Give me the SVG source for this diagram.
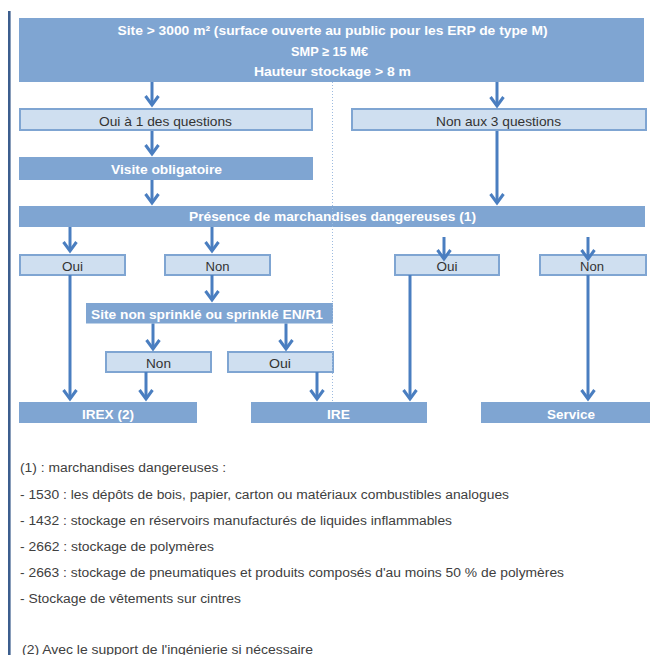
<svg xmlns="http://www.w3.org/2000/svg" width="650" height="655" viewBox="0 0 650 655">
<style>
.dark{fill:#7fa5d2}
.light{fill:#cfdff0;stroke:#7fa5d2;stroke-width:2}
.tw{fill:#ffffff;font-family:"Liberation Sans",Arial,sans-serif;font-weight:bold;font-size:13px;text-anchor:middle}
.td{fill:#333333;font-family:"Liberation Sans",Arial,sans-serif;font-size:13px;text-anchor:middle}
.fn{fill:#404040;font-family:"Liberation Sans",Arial,sans-serif;font-size:12.5px}
.conn path{stroke:#4a7ec0;stroke-width:3;fill:none;marker-end:url(#ah)}
</style>
<defs>
<marker id="ah" markerUnits="userSpaceOnUse" markerWidth="20" markerHeight="20" viewBox="-12 -10 16 20" refX="0" refY="0" orient="auto" overflow="visible">
<path d="M-9,-6.5 L0,0 L-9,6.5" fill="none" stroke="#4a7ec0" stroke-width="3"/>
</marker>
</defs>
<rect width="650" height="655" fill="#ffffff"/>
<rect x="8" y="11" width="2.6" height="644" fill="#3c5e8e"/>

<g id="n-top"><rect class="dark" x="19" y="18" width="625" height="64"/>
<text class="tw" x="332.5" y="34.6" textLength="430" lengthAdjust="spacingAndGlyphs">Site &gt; 3000 m² (surface ouverte au public pour les ERP de type M)</text>
<text class="tw" x="329.5" y="56.3" textLength="77" lengthAdjust="spacingAndGlyphs">SMP ≥ 15 M€</text>
<text class="tw" x="332.5" y="76.3" textLength="157" lengthAdjust="spacingAndGlyphs">Hauteur stockage &gt; 8 m</text></g>

<g id="n-oui1"><rect class="light" x="20" y="109" width="292" height="21"/>
<text class="td" x="165.5" y="125.5" textLength="133" lengthAdjust="spacingAndGlyphs">Oui à 1 des questions</text></g>
<g id="n-non3"><rect class="light" x="352" y="109" width="294" height="21"/>
<text class="td" x="498.5" y="125.5" textLength="125" lengthAdjust="spacingAndGlyphs">Non aux 3 questions</text></g>

<g id="n-visite"><rect class="dark" x="19" y="157" width="294" height="23"/>
<text class="tw" x="166.5" y="173.5" textLength="111" lengthAdjust="spacingAndGlyphs">Visite obligatoire</text></g>

<g id="n-presence"><rect class="dark" x="19" y="206" width="626" height="21"/>
<text class="tw" x="332.5" y="221" textLength="287" lengthAdjust="spacingAndGlyphs">Présence de marchandises dangereuses (1)</text></g>

<g id="n-oui-l"><rect class="light" x="20" y="255" width="105" height="20"/>
<text class="td" x="72.5" y="270.5" textLength="21" lengthAdjust="spacingAndGlyphs">Oui</text></g>
<g id="n-non-l"><rect class="light" x="165" y="255" width="105" height="20"/>
<text class="td" x="217.5" y="270.5" textLength="24" lengthAdjust="spacingAndGlyphs">Non</text></g>
<g id="n-oui-r"><rect class="light" x="395" y="255" width="104" height="20"/>
<text class="td" x="447" y="270.5" textLength="21" lengthAdjust="spacingAndGlyphs">Oui</text></g>
<g id="n-non-r"><rect class="light" x="540" y="255" width="106" height="20"/>
<text class="td" x="592" y="270.5" textLength="24" lengthAdjust="spacingAndGlyphs">Non</text></g>

<g id="n-sprinkle"><rect class="dark" x="86" y="303" width="247" height="20.5"/>
<text class="tw" x="207" y="318.5" textLength="232" lengthAdjust="spacingAndGlyphs">Site non sprinklé ou sprinklé EN/R1</text></g>

<g id="n-non-b"><rect class="light" x="106" y="352" width="105" height="20"/>
<text class="td" x="158.5" y="368" textLength="25" lengthAdjust="spacingAndGlyphs">Non</text></g>
<g id="n-oui-b"><rect class="light" x="228" y="352" width="105" height="20"/>
<text class="td" x="280" y="368" textLength="22" lengthAdjust="spacingAndGlyphs">Oui</text></g>

<g id="n-irex"><rect class="dark" x="19" y="402" width="178" height="21"/>
<text class="tw" x="108" y="418.5" textLength="52" lengthAdjust="spacingAndGlyphs">IREX (2)</text></g>
<g id="n-ire"><rect class="dark" x="251" y="402" width="176" height="21"/>
<text class="tw" x="338.5" y="418.5" textLength="23" lengthAdjust="spacingAndGlyphs">IRE</text></g>
<g id="n-service"><rect class="dark" x="481" y="402" width="177" height="21"/>
<text class="tw" x="571" y="418.5" textLength="48" lengthAdjust="spacingAndGlyphs">Service</text></g>

<line x1="332.5" y1="82" x2="332.5" y2="402" stroke="#9dbbe0" stroke-width="1" stroke-dasharray="1 2"/>

<g id="connectors" class="conn">
<path d="M152,82 V105"/>
<path d="M497,82 V106"/>
<path d="M152,131 V154"/>
<path d="M152,180 V203"/>
<path d="M497,131 V203"/>
<path d="M70,227 V251"/>
<path d="M212,227 V251"/>
<path d="M444,237 V259"/>
<path d="M588,237 V259"/>
<path d="M70,275 V399"/>
<path d="M212,275 V300"/>
<path d="M153,323.5 V349"/>
<path d="M286,323.5 V349"/>
<path d="M146,372 V399"/>
<path d="M317,372 V399"/>
<path d="M410,275 V399"/>
<path d="M588,275 V399"/>
</g>

<g id="notes">
<text class="fn" x="20" y="472" textLength="206" lengthAdjust="spacingAndGlyphs">(1) : marchandises dangereuses :</text>
<text class="fn" x="20" y="498.5" textLength="489" lengthAdjust="spacingAndGlyphs">- 1530 : les dépôts de bois, papier, carton ou matériaux combustibles analogues</text>
<text class="fn" x="20" y="524.5" textLength="432" lengthAdjust="spacingAndGlyphs">- 1432 : stockage en réservoirs manufacturés de liquides inflammables</text>
<text class="fn" x="20" y="551" textLength="194" lengthAdjust="spacingAndGlyphs">- 2662 : stockage de polymères</text>
<text class="fn" x="20" y="577" textLength="544" lengthAdjust="spacingAndGlyphs">- 2663 : stockage de pneumatiques et produits composés d'au moins 50 % de polymères</text>
<text class="fn" x="20" y="603" textLength="221" lengthAdjust="spacingAndGlyphs">- Stockage de vêtements sur cintres</text>
<text class="fn" x="22" y="653.5" textLength="291" lengthAdjust="spacingAndGlyphs">(2) Avec le support de l'ingénierie si nécessaire</text>
</g>
</svg>
